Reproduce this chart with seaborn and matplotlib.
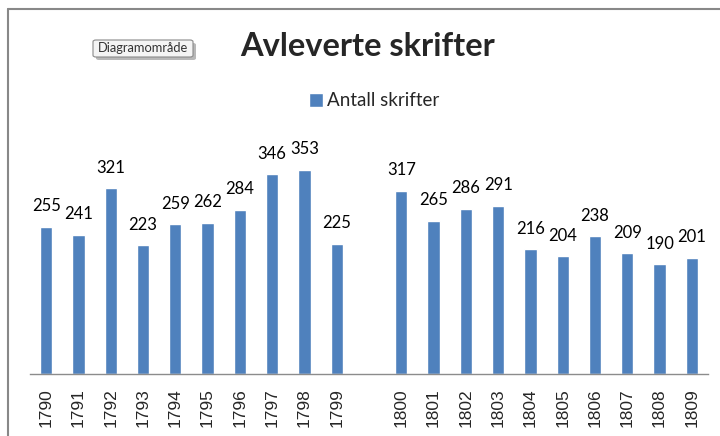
import matplotlib
matplotlib.use("Agg")
import matplotlib.pyplot as plt
import seaborn as sns
import pandas as pd
from matplotlib.lines import Line2D
from matplotlib.patches import FancyBboxPatch

years = ["1790", "1791", "1792", "1793", "1794", "1795", "1796", "1797", "1798", "1799",
         "1800", "1801", "1802", "1803", "1804", "1805", "1806", "1807", "1808", "1809"]
values = [255, 241, 321, 223, 259, 262, 284, 346, 353, 225,
          317, 265, 286, 291, 216, 204, 238, 209, 190, 201]
order = years[:10] + [" "] + years[10:]
series_name = "Antall skrifter"
title = "Avleverte skrifter"

sns.set_theme(style="white")
plt.rcParams['font.family'] = ['Lato', 'DejaVu Sans']

W, H = 720, 436
fig = plt.figure(figsize=(W / 100, H / 100), dpi=100)
left, right = 30, 708
base, top = 374, 120
ax = fig.add_axes([left / W, 1 - base / H, (right - left) / W, (base - top) / H])

df = pd.DataFrame({"year": years, "value": values, "series": series_name})
sns.barplot(data=df, x="year", y="value", order=order, color="#4F81BD",
            width=0.38, ax=ax, saturation=1, label=series_name)
for c in ax.containers:
    ax.bar_label(c, padding=9, fontsize=12, color="black", family="Lato")

ax.set_ylim(0, 254 / 0.578)
ax.set_xlim(-0.5, len(order) - 0.5)
ax.set_xlabel("")
ax.set_ylabel("")
ax.set_yticks([])
ax.set_xticks(range(len(order)))
ax.set_xticklabels(order, rotation=90, fontsize=12.5, fontfamily="Liberation Sans")
ax.tick_params(axis="x", length=0, pad=10)
for s in ["top", "left", "right"]:
    ax.spines[s].set_visible(False)
ax.spines["bottom"].set_color("#8c8c8c")
ax.spines["bottom"].set_linewidth(1)
ax.patch.set_alpha(0)

leg = ax.legend(loc="center", bbox_to_anchor=(374 / W, 1 - 101 / H),
                bbox_transform=fig.transFigure, frameon=False,
                handlelength=0.75, handleheight=0.75, handletextpad=0.25,
                prop={"family": "Lato", "size": 13.5})

fig.text(368 / W, 1 - 47 / H, title, ha="center", va="center",
         fontsize=23.5, fontweight="bold", family="Lato")

# tooltip box with shadow
bx, by, bw, bh = 93, 40, 100, 17
shadow = FancyBboxPatch(((bx + 3) / W, 1 - (by + bh + 3) / H), bw / W, bh / H,
                        boxstyle="round,pad=0,rounding_size=0.004",
                        transform=fig.transFigure, fc="#b8b8b8", ec="none")
box = FancyBboxPatch((bx / W, 1 - (by + bh) / H), bw / W, bh / H,
                     boxstyle="round,pad=0,rounding_size=0.004",
                     transform=fig.transFigure, fc="#f4f4f4", ec="#8a8a8a", lw=0.8)
fig.add_artist(shadow)
fig.add_artist(box)
fig.text((bx + bw / 2) / W, 1 - (by + bh / 2) / H, "Diagramområde", ha="center",
         va="center", fontsize=9.3, color="#333333", family="Lato")

# chart area border
fig.add_artist(Line2D([8 / W, 1], [1 - 9 / H, 1 - 9 / H], transform=fig.transFigure,
                      color="#888888", lw=1.5))
fig.add_artist(Line2D([8 / W, 8 / W], [0, 1 - 9 / H], transform=fig.transFigure,
                      color="#888888", lw=1.5))

fig.savefig("out.png", dpi=100)
